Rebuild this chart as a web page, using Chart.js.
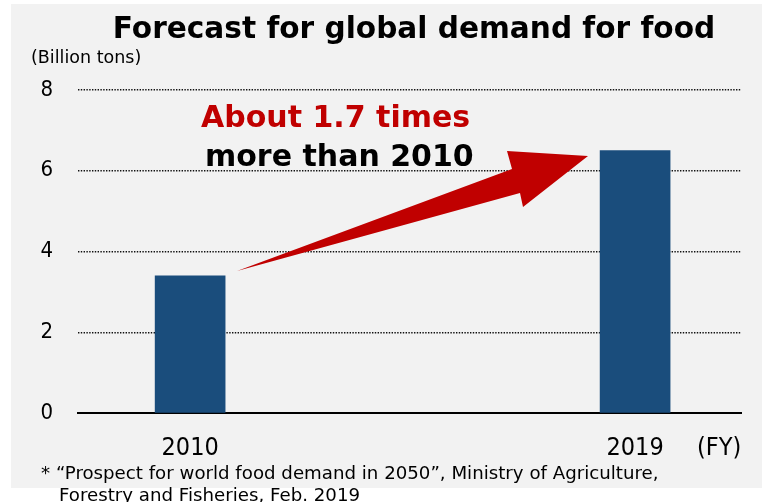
<!DOCTYPE html>
<html>
<head>
<meta charset="utf-8">
<script src="https://cdn.jsdelivr.net/npm/chart.js@4.4.1/dist/chart.umd.min.js"></script>
<style>
  html, body { margin: 0; padding: 0; background: #fff; }
  #wrap { width: 762px; height: 502px; }
</style>
</head>
<body>
<div id="wrap"><canvas id="chart" width="762" height="502"></canvas></div>
<script>
    // data
    const years = ["2010", "2019"];
    const demand = [3.4, 6.5];
    const yTicks = [0, 2, 4, 6, 8];

    const COND = "'DejaVu Sans Condensed', 'DejaVu Sans', sans-serif";
    const SANS = "'DejaVu Sans', sans-serif";

    // grey panel behind the chart
    const panel = {
        id: "panel",
        beforeDraw: function (chart) {
            const ctx = chart.ctx;
            ctx.save();
            ctx.fillStyle = "#ffffff";
            ctx.fillRect(0, 0, chart.width, chart.height);
            ctx.fillStyle = "#f2f2f2";
            ctx.fillRect(11, 4, chart.width - 11, 484);
            ctx.restore();
        }
    };

    // title, unit, footnote, arrow and callout
    const extras = {
        id: "extras",
        afterDraw: function (chart) {
            const ctx = chart.ctx;
            ctx.save();
            ctx.fillStyle = "#000";
            ctx.textBaseline = "alphabetic";

            ctx.font = "bold 29.6px " + SANS;
            ctx.textAlign = "center";
            ctx.fillText("Forecast for global demand for food", 414, 38);

            ctx.textAlign = "left";
            ctx.font = "17.5px " + SANS;
            ctx.fillText("(Billion tons)", 31, 63);
            ctx.font = "18.2px " + SANS;
            ctx.fillText("* \u201cProspect for world food demand in 2050\u201d, Ministry of Agriculture,", 41, 479);
            ctx.fillText("Forestry and Fisheries, Feb. 2019", 59, 501);

            ctx.font = "25px " + COND;
            ctx.textBaseline = "middle";
            ctx.fillText("(FY)", 697, 448);

            // arrow from 2010 bar up to 2019 bar
            ctx.fillStyle = "#c00000";
            ctx.beginPath();
            ctx.moveTo(237, 271);
            ctx.lineTo(512, 169);
            ctx.lineTo(507, 151);
            ctx.lineTo(588, 156);
            ctx.lineTo(523, 207);
            ctx.lineTo(520, 193);
            ctx.closePath();
            ctx.fill();

            ctx.textBaseline = "alphabetic";
            ctx.textAlign = "left";
            ctx.font = "bold 30px " + SANS;
            ctx.fillText("About 1.7 times", 201, 127);
            ctx.fillStyle = "#000";
            ctx.fillText("more than 2010", 205, 166);
            ctx.restore();
        }
    };

    new Chart(document.getElementById("chart"), {
        type: "bar",
        data: {
            datasets: [{
                data: years.map(function (y, i) { return { x: i, y: demand[i] }; }),
                backgroundColor: "#1a4d7c",
                barThickness: 70
            }]
        },
        options: {
            responsive: false,
            animation: false,
            layout: { padding: { top: 90, right: 21, left: 0, bottom: 0 } },
            plugins: {
                legend: { display: false },
                tooltip: { enabled: false }
            },
            scales: {
                x: {
                    type: "linear",
                    offset: false,
                    min: -0.252,
                    max: 1.238,
                    afterBuildTicks: function (s) {
                        s.ticks = years.map(function (y, i) { return { value: i }; });
                    },
                    afterFit: function (s) { s.height = 89; },
                    grid: { display: false, drawTicks: false },
                    border: { display: true, color: "#000", width: 2 },
                    ticks: {
                        padding: 20,
                        maxRotation: 0,
                        color: "#000",
                        font: { family: COND, size: 25 },
                        callback: function (v, i) { return years[i]; }
                    }
                },
                y: {
                    min: 0,
                    max: 8,
                    afterBuildTicks: function (s) {
                        s.ticks = yTicks.map(function (v) { return { value: v }; });
                    },
                    afterFit: function (s) { s.width = 78; },
                    grid: {
                        drawTicks: false,
                        color: function (c) { return c.tick && c.tick.value === 0 ? "rgba(0,0,0,0)" : "#111"; },
                        lineWidth: 1.4
                    },
                    border: { display: false, dash: [1.4, 1.4] },
                    ticks: {
                        padding: 25,
                        color: "#000",
                        font: { family: COND, size: 22 }
                    }
                }
            }
        },
        plugins: [panel, extras]
    });
</script>
</body>
</html>
